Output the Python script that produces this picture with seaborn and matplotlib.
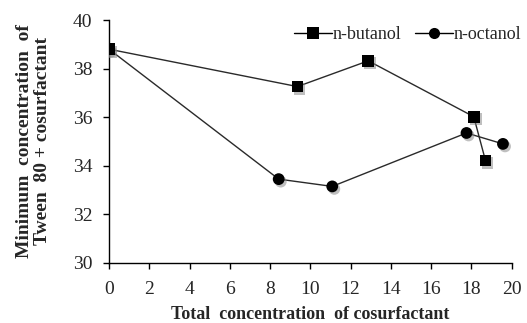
import matplotlib
matplotlib.use("Agg")
import matplotlib.pyplot as plt
import matplotlib.patheffects as pe
from matplotlib.lines import Line2D
import seaborn as sns
import pandas as pd

# Cosurfactant series: total cosurfactant concentration vs minimum Tween 80 + cosurfactant
butanol_x = [0.0, 9.36, 12.88, 18.12, 18.70]
butanol_y = [38.8, 37.26, 38.32, 36.02, 34.22]
octanol_x = [0.0, 8.43, 11.09, 17.76, 19.57]
octanol_y = [38.8, 33.45, 33.15, 35.35, 34.90]
series_names = ["n-butanol", "n-octanol"]
x_ticks = list(range(0, 21, 2))
y_ticks = list(range(30, 41, 2))

df = pd.concat([
    pd.DataFrame({"x": butanol_x, "y": butanol_y, "series": series_names[0]}),
    pd.DataFrame({"x": octanol_x, "y": octanol_y, "series": series_names[1]}),
], ignore_index=True)

marker_map = {series_names[0]: "s", series_names[1]: "o"}
black_map = {s: "black" for s in series_names}

sns.set_theme(style="ticks")
plt.rcParams["font.family"] = ["Liberation Serif", "DejaVu Serif"]

fig = plt.figure(figsize=(5.27, 3.23), dpi=100)
ax = fig.add_axes([0.2068, 0.186, 0.764, 0.752])

# connecting lines
sns.lineplot(data=df, x="x", y="y", hue="series", palette=black_map,
             sort=False, ax=ax, linewidth=1.0, legend=False)
for ln in ax.lines:
    ln.set_color("#2a2a2a")

# markers with a soft drop shadow
sns.scatterplot(data=df, x="x", y="y", hue="series", style="series",
                markers=marker_map, palette=black_map, s=72, linewidth=0,
                ax=ax, legend=False, zorder=3)
for coll in ax.collections:
    coll.set_path_effects([pe.SimplePatchShadow(offset=(1.5, -1.8), shadow_rgbFace="0.5", alpha=0.5),
                           pe.Normal()])

ax.set_xlim(0, 20)
ax.set_ylim(30, 40)
ax.set_xticks(x_ticks)
ax.set_yticks(y_ticks)
ax.tick_params(axis="both", labelsize=14, length=4, width=1, color="black", direction="out")
ax.tick_params(axis="x", pad=9)
ax.tick_params(axis="y", pad=8)
for s in ["left", "bottom"]:
    ax.spines[s].set_color("black")
    ax.spines[s].set_linewidth(1)
sns.despine(ax=ax)

ax.set_xlabel("Total  concentration  of cosurfactant", fontsize=13, fontweight="bold")
ax.xaxis.label.set_va("baseline")
ax.xaxis.set_label_coords(0.5, -0.232)
ax.set_ylabel("Minimum  concentration  of\nTween  80 + cosurfactant", fontsize=14,
              fontweight="bold", linespacing=1.1)
ax.yaxis.set_label_coords(-0.143, 0.5)

handles = [Line2D([], [], color="black", lw=1.0, marker=marker_map[s], markersize=8,
                  markeredgewidth=0) for s in series_names]
ax.legend(handles, series_names, loc="upper right", ncol=2, frameon=False,
          fontsize=13, handlelength=2.1, handletextpad=0.0, columnspacing=0.8,
          bbox_to_anchor=(1.05, 1.02), borderaxespad=0.2)

fig.savefig("out.png", dpi=100)
